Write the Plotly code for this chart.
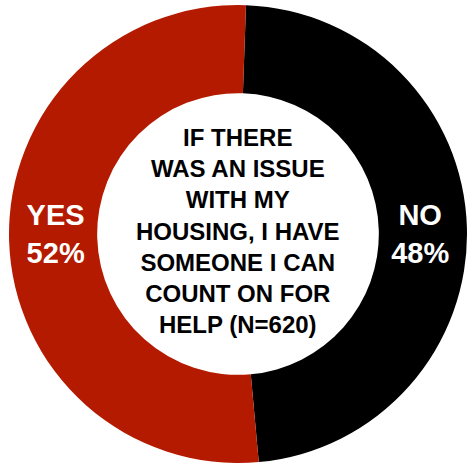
import plotly.graph_objects as go

# Survey answers and their shares (%), listed clockwise from 12 o'clock
answers = ["NO", "YES"]
shares = [48, 52]
slice_colors = ["#000000", "#B41A00"]
question = "IF THERE<br>WAS AN ISSUE<br>WITH MY<br>HOUSING, I HAVE<br>SOMEONE I CAN<br>COUNT ON FOR<br>HELP (N=620)"

W, H = 467, 465
cx, cy, R = 238, 234, 229  # ring centre and outer radius in pixels

fig = go.Figure(
    go.Pie(
        labels=answers,
        values=shares,
        hole=0.615,
        sort=False,
        direction="clockwise",
        rotation=2,
        marker=dict(colors=slice_colors, line=dict(width=0)),
        texttemplate="%{label}<br>%{value}%",
        textposition="inside",
        insidetextorientation="horizontal",
        textfont=dict(family="Liberation Sans, Arial, sans-serif", size=29,
                      color="white", weight="bold"),
        hoverinfo="skip",
        showlegend=False,
        domain=dict(
            x=[(cx - R) / W, min(1.0, (cx + R) / W)],
            y=[(H - cy - R) / H, (H - cy + R) / H],
        ),
    )
)

fig.add_annotation(
    text=question,
    x=cx / W, y=1 - 231 / H, xref="paper", yref="paper",
    xanchor="center", yanchor="middle",
    showarrow=False, align="center",
    font=dict(family="Liberation Sans, Arial, sans-serif", size=24,
              color="#000000", weight="bold"),
)

fig.update_layout(
    width=W, height=H,
    margin=dict(l=0, r=0, t=0, b=0),
    paper_bgcolor="white",
    plot_bgcolor="white",
)

fig.write_html("out.html")
